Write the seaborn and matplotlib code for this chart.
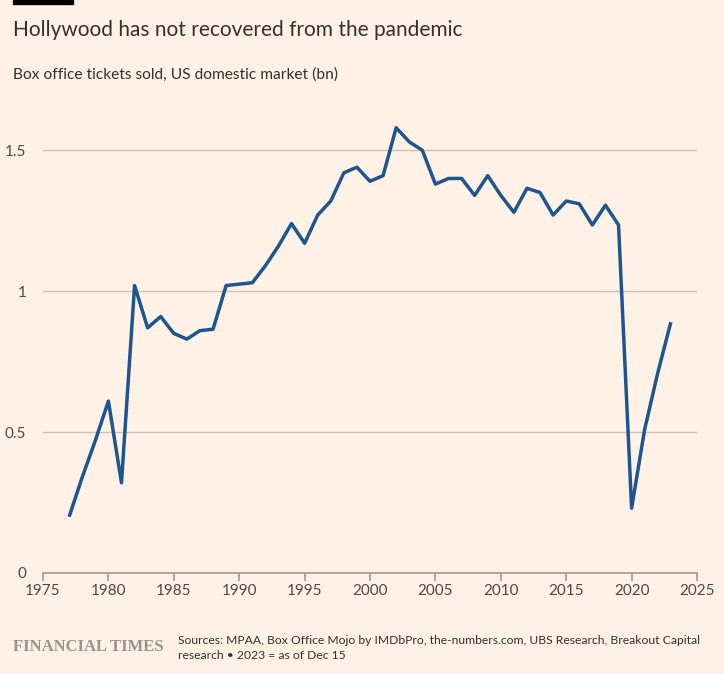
import matplotlib.pyplot as plt
import seaborn as sns
import pandas as pd

years = list(range(1977, 2024))
tickets = [0.20, 0.34, 0.47, 0.61, 0.32, 1.02, 0.87, 0.91, 0.85, 0.83,
           0.86, 0.865, 1.02, 1.025, 1.03, 1.09, 1.16, 1.24, 1.17, 1.27,
           1.32, 1.42, 1.44, 1.39, 1.41, 1.58, 1.53, 1.50, 1.38, 1.40,
           1.40, 1.34, 1.41, 1.34, 1.28, 1.365, 1.35, 1.27, 1.32, 1.31,
           1.235, 1.305, 1.235, 0.23, 0.51, 0.71, 0.89]

x_ticks = list(range(1975, 2030, 5))
y_ticks = [0, 0.5, 1, 1.5]
y_labels = ["0", "0.5", "1", "1.5"]

BG = "#fff1e5"
TXT = "#33302e"
LINE = "#1d5590"

sns.set_theme(style="white")
plt.rcParams["font.family"] = ["Lato", "DejaVu Sans"]

df = pd.DataFrame({"year": years, "tickets": tickets})

fig = plt.figure(figsize=(7.24, 6.74), dpi=100, facecolor=BG)
ax = fig.add_axes([43 / 724, 1 - 573 / 674, 654 / 724, 465 / 674])
ax.set_facecolor(BG)

sns.lineplot(data=df, x="year", y="tickets", ax=ax, color=LINE, linewidth=2.5,
             solid_joinstyle="round", solid_capstyle="butt")

ax.set_xlim(1975, 2025)
ax.set_ylim(0, 1.65)
ax.set_xticks(x_ticks)
ax.set_yticks(y_ticks)
ax.set_yticklabels(y_labels)
ax.yaxis.grid(True, color="#ccc1b7", linewidth=1)
ax.set_axisbelow(True)
for s in ["top", "right", "left"]:
    ax.spines[s].set_visible(False)
ax.spines["bottom"].set_color("#a69c93")
ax.tick_params(axis="x", length=6, color="#a69c93", labelsize=11, labelcolor="#4d4845", pad=2, direction="out", bottom=True)
ax.tick_params(axis="y", length=0, labelsize=11, labelcolor="#4d4845", pad=12)
ax.set_xlabel("")
ax.set_ylabel("")

fig.add_artist(plt.Rectangle((13 / 724, 1 - 4 / 674), 60 / 724, 4 / 674, color="black", transform=fig.transFigure))
fig.text(13 / 724, 1 - 30 / 674, "Hollywood has not recovered from the pandemic", fontsize=15, color=TXT, va="center")
fig.text(13 / 724, 1 - 75 / 674, "Box office tickets sold, US domestic market (bn)", fontsize=11.2, color=TXT, va="center")
fig.text(13 / 724, 1 - 647 / 674, "FINANCIAL TIMES", family=["Liberation Serif", "DejaVu Serif"], fontsize=12,
         fontweight="bold", color="#99918b", va="center")
fig.text(178 / 724, 1 - 648 / 674,
         "Sources: MPAA, Box Office Mojo by IMDbPro, the-numbers.com, UBS Research, Breakout Capital\n"
         "research \u2022 2023 = as of Dec 15",
         fontsize=8.75, color=TXT, va="center", linespacing=1.5)

fig.savefig("out.png", dpi=100, facecolor=BG)
